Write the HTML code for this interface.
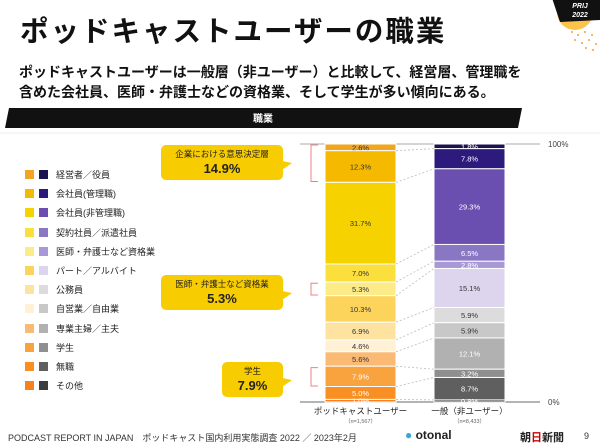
<!DOCTYPE html>
<html><head><meta charset="utf-8">
<style>
body{margin:0;width:600px;height:446px;background:#fff;overflow:hidden;font-family:"Liberation Sans","Noto Sans CJK JP",sans-serif;position:relative}
.abs{position:absolute}
.title{left:20px;top:9px;font-size:28.5px;font-weight:bold;color:#111;letter-spacing:2px}
.sub{left:19px;top:62px;font-size:14px;font-weight:bold;color:#111;line-height:20px}
.lg{position:absolute;left:25px;font-size:9px;color:#222;height:10px;line-height:10px}
.lg i{position:absolute;width:9px;height:9px;top:0}
.lg span{position:absolute;left:31px;white-space:nowrap}
.call{position:absolute;background:#f7cc00;border-radius:5px;text-align:center;color:#222;font-size:8.5px}
.call b{display:block;font-size:13px;font-weight:bold;margin-top:1px}
.call:after{content:"";position:absolute;right:-9px;top:14px;border-left:10px solid #f7cc00;border-top:6px solid transparent;border-bottom:3px solid transparent;transform:skewY(-20deg)}
</style></head><body>
<div class="abs title">ポッドキャストユーザーの職業</div>
<div class="abs sub">ポッドキャストユーザーは一般層（非ユーザー）と比較して、経営層、管理職を<br>含めた会社員、医師・弁護士などの資格業、そして学生が多い傾向にある。</div>
<svg class="abs" style="left:0;top:0" width="600" height="446">
<circle cx="575" cy="12" r="18" fill="#fbc34a"/>
<polygon points="552,-2 600,-2 600,20 560,22" fill="#111"/>
<text x="580" y="8" font-size="7" font-weight="bold" font-style="italic" fill="#fff" text-anchor="middle">PRIJ</text>
<text x="580" y="17" font-size="7" font-weight="bold" font-style="italic" fill="#fff" text-anchor="middle">2022</text>
<g fill="#f0a040"><circle cx="572" cy="32" r="1"/><circle cx="578" cy="35" r="1"/><circle cx="585" cy="32" r="1"/><circle cx="592" cy="35" r="1"/><circle cx="575" cy="40" r="1"/><circle cx="582" cy="43" r="1"/><circle cx="589" cy="40" r="1"/><circle cx="596" cy="44" r="1"/><circle cx="586" cy="48" r="1"/><circle cx="593" cy="50" r="1"/></g>
<polygon points="9,108 522,108 518,128 5,128" fill="#111"/>
<text x="263" y="122" font-size="10" font-weight="bold" fill="#fff" text-anchor="middle">職業</text>
<line x1="0" y1="133" x2="600" y2="133" stroke="#eee"/>
</svg>
<div id="legend"></div>
<div class="call" style="left:161px;top:145px;width:122px;height:32px;padding-top:3px">企業における意思決定層<b>14.9%</b></div>
<div class="call" style="left:161px;top:275px;width:122px;height:32px;padding-top:3px">医師・弁護士など資格業<b>5.3%</b></div>
<div class="call" style="left:222px;top:362px;width:61px;height:32px;padding-top:3px">学生<b>7.9%</b></div>
<svg id="chart" class="abs" style="left:0;top:0" width="600" height="446"></svg>
<div class="abs" style="left:8px;top:431px;font-size:9px;color:#333;white-space:nowrap">PODCAST REPORT IN JAPAN　ポッドキャスト国内利用実態調査 2022 ／ 2023年2月</div>
<div class="abs" style="left:405px;top:428px;font-size:12px;font-weight:bold;color:#222"><span style="color:#3aa6d8">●</span> otonal</div>
<div class="abs" style="left:520px;top:429px;font-size:11px;font-weight:bold;color:#222">朝<span style="color:#c00">日</span>新聞</div>
<div class="abs" style="left:584px;top:431px;font-size:9px;color:#333">9</div>
<script>
const categories=["経営者／役員","会社員(管理職)","会社員(非管理職)","契約社員／派遣社員","医師・弁護士など資格業","パート／アルバイト","公務員","自営業／自由業","専業主婦／主夫","学生","無職","その他"];
const seriesNames=["ポッドキャストユーザー","一般（非ユーザー）"];
const sampleLabels=["（n=1,567）","（n=8,433）"];
const podcastValues=[2.6,12.3,31.7,7.0,5.3,10.3,6.9,4.6,5.6,7.9,5.0,1.0];
const generalValues=[1.8,7.8,29.3,6.5,2.8,15.1,5.9,5.9,12.1,3.2,8.7,0.8];
const axisTicks=["100%","0%"];
const podColors=["#f2a51f","#f5b900","#f6d200","#fbdf3c","#fdeb88","#fcd45c","#fde2a0","#fff1d6","#fbba73","#f9a33e","#f98e22","#f6821c"];
const genColors=["#1c1450","#2c1a7c","#6a4fb0","#8a77c4","#a898d5","#ddd5ed","#dcdcdc","#c8c8c8","#b1b1b1","#8f8f8f","#5f5f5f","#3d3d3d"];
const NS="http://www.w3.org/2000/svg";
const svg=document.getElementById('chart');
const yTop=144,yBot=402;
function yScale(p){return yBot-(yBot-yTop)*p/100;}
function mk(t,a){const e=document.createElementNS(NS,t);for(const k in a)e.setAttribute(k,a[k]);svg.appendChild(e);return e;}
let l=mk('line',{x1:300,y1:yTop,x2:540,y2:yTop,stroke:'#aaa','stroke-width':1});


l=mk('line',{x1:300,y1:yBot,x2:540,y2:yBot,stroke:'#888','stroke-width':1.2});


let tt=mk('text',{x:548,y:yTop+3,'font-size':8,fill:'#444'});tt.textContent=axisTicks[0];


tt=mk('text',{x:548,y:yBot+3,'font-size':8,fill:'#444'});tt.textContent=axisTicks[1];


function drawBar(vals,cols,x,w,name){
  const tot=vals.reduce((a,b)=>a+b,0);let cum=100;const bounds=[];
  vals.forEach((v,i)=>{
    const p=v/tot*100;const y0=yScale(cum),y1=yScale(cum-p);cum-=p;
    const r=mk('rect',{x:x,y:y0,width:w,height:Math.max(0,y1-y0),fill:cols[i],stroke:'#fff','stroke-width':1});
    
    
    const dark=(cols===genColors&&(i<5||i>=8))||(cols===podColors&&i>=9);
    const t=mk('text',{x:x+w/2,y:(y0+y1)/2+3,'font-size':7.5,'text-anchor':'middle',fill:dark?'#fff':'#333'});
    t.textContent=v.toFixed(1)+'%';
    
    
    bounds.push([y0,y1]);
  });
  return bounds;
}
const bp=drawBar(podcastValues,podColors,325,71,'podcast-bar');
const bg=drawBar(generalValues,genColors,434,71,'general-bar');
for(let i=0;i<categories.length-1;i++){
  const c=mk('line',{x1:396,y1:bp[i][1],x2:434,y2:bg[i][1],stroke:'#bbb','stroke-dasharray':'2,2','stroke-width':0.8});
  
  
}
function bracket(a,b,name){const ya=yScale(100-podcastValues.slice(0,a).reduce((s,v)=>s+v,0));const yb=yScale(100-podcastValues.slice(0,b+1).reduce((s,v)=>s+v,0));
 const p=mk('path',{d:`M318 ${ya+1}H311V${yb-1}H318`,fill:'none',stroke:'#f08080','stroke-width':1});
 
 }
bracket(0,1,'bracket-decision');bracket(4,4,'bracket-professional');bracket(9,9,'bracket-student');
seriesNames.forEach((n,i)=>{const x=i?469.5:360.5;
 const t=mk('text',{x:x,y:414,'font-size':8.5,'text-anchor':'middle',fill:'#222'});t.textContent=n;
 
 
 const s=mk('text',{x:x,y:423,'font-size':5.5,'text-anchor':'middle',fill:'#666'});s.textContent=sampleLabels[i];
 
 });
const lg=document.getElementById('legend');
categories.forEach((c,i)=>{const d=document.createElement('div');d.className='lg';d.style.top=(170+i*19.2)+'px';
 
 
 d.innerHTML=`<i style="left:0;background:${podColors[i]}"></i><i style="left:14px;background:${genColors[i]}"></i><span>${c}</span>`;lg.appendChild(d);});
</script>
</body></html>
